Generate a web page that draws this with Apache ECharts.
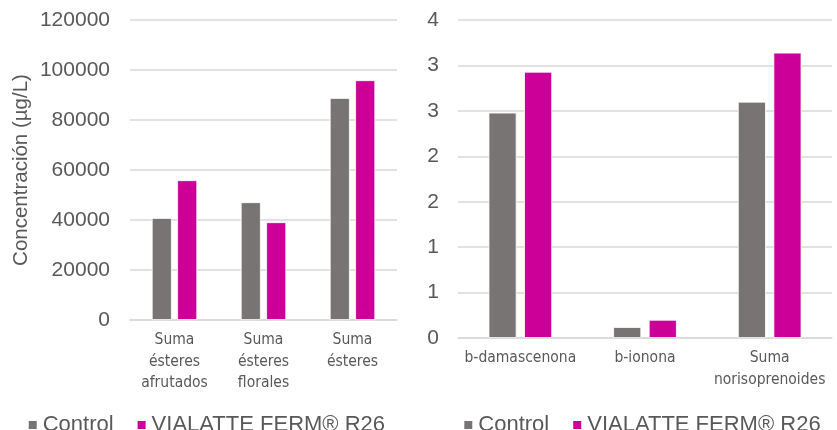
<!DOCTYPE html>
<html>
<head>
<meta charset="utf-8">
<script src="https://cdn.jsdelivr.net/npm/echarts@6/dist/echarts.min.js"></script>
<style>
  html, body { margin: 0; padding: 0; background: #fff; }
  #chart { width: 837px; height: 430px; }
</style>
</head>
<body>
<div id="chart"></div>
<script>
// Ester sums (µg/L)
const esterCategories = ['Suma\nésteres\nafrutados', 'Suma\nésteres\nflorales', 'Suma\nésteres'];
const esterControl = [40800, 47100, 88800];
const esterVialatte = [55900, 39100, 95900];

// Norisoprenoids
const noriCategories = ['b-damascenona', 'b-ionona', 'Suma\nnorisoprenoides'];
const noriControl = [2.48, 0.12, 2.60];
const noriVialatte = [2.93, 0.20, 3.14];

const seriesNames = ['Control', 'VIALATTE FERM® R26'];
const esterTicks = { min: 0, max: 120000, interval: 20000 };
const noriTicks = { min: 0, max: 3.5, interval: 0.5 };

const GRAY = '#787473';
const MAGENTA = '#CC0099';
const TEXT = '#595959';
const GRID = '#D9D9D9';
const REG = 'Liberation Sans, Arial, sans-serif';
const NARROW = '"DejaVu Sans Condensed", "Liberation Sans", sans-serif';

const chart = echarts.init(document.getElementById('chart'), null, { renderer: 'canvas' });

function catAxis(idx, data) {
  return {
    type: 'category', gridIndex: idx, data: data,
    axisTick: { show: false },
    axisLine: { lineStyle: { color: GRID, width: 1.5 } },
    axisLabel: { color: TEXT, fontFamily: NARROW, fontSize: 15.5, lineHeight: 21.7, margin: 9, interval: 0 }
  };
}
function valAxis(idx, ticks, extra) {
  return Object.assign({
    type: 'value', gridIndex: idx,
    min: ticks.min, max: ticks.max, interval: ticks.interval,
    axisLine: { show: false }, axisTick: { show: false },
    splitLine: { lineStyle: { color: GRID, width: 1.5 } },
    axisLabel: { color: TEXT, fontFamily: REG, fontSize: 21, margin: 20, formatter: v => String(v) }
  }, extra || {});
}
function bar(name, color, xi, data, w) {
  return {
    name: name, type: 'bar', xAxisIndex: xi, yAxisIndex: xi, data: data,
    barWidth: w, barGap: '27%',
    itemStyle: { color: color, borderColor: '#ffffff', borderWidth: 0.8 },
    emphasis: { disabled: true }
  };
}
const legendBase = {
  itemWidth: 10, itemHeight: 10, itemGap: 22, icon: 'rect',
  textStyle: { color: TEXT, fontFamily: REG, fontSize: 22 },
  data: seriesNames, top: 409
};

chart.setOption({
  animation: false,
  grid: [
    { left: 130, right: 440, top: 20, bottom: 110 },
    { left: 458, right: 5, top: 20, bottom: 92 }
  ],
  xAxis: [catAxis(0, esterCategories), catAxis(1, noriCategories)],
  yAxis: [
    valAxis(0, esterTicks, {
      name: 'Concentración (µg/L)', nameLocation: 'middle', nameRotate: 90, nameGap: 98,
      nameTextStyle: { color: TEXT, fontFamily: REG, fontSize: 20.5 }
    }),
    valAxis(1, noriTicks, {
      axisLabel: { color: TEXT, fontFamily: REG, fontSize: 21, margin: 19,
        formatter: v => String(Math.round(v)) }
    })
  ],
  legend: [
    Object.assign({ left: 21.7 }, legendBase),
    Object.assign({ left: 457.3 }, legendBase)
  ],
  series: [
    bar(seriesNames[0], GRAY, 0, esterControl, 20),
    bar(seriesNames[1], MAGENTA, 0, esterVialatte, 20),
    bar(seriesNames[0], GRAY, 1, noriControl, 28),
    bar(seriesNames[1], MAGENTA, 1, noriVialatte, 28)
  ]
});
</script>
</body>
</html>
